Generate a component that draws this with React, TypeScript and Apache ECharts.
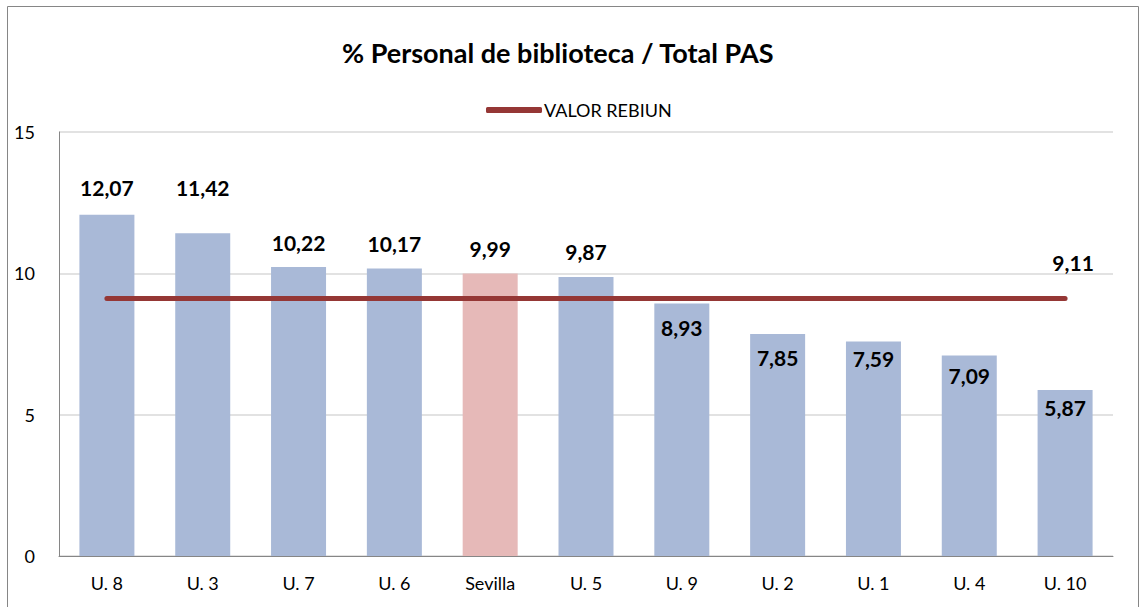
import React, { useEffect, useRef } from "react";
import * as echarts from "echarts";

const categories = ["U. 8", "U. 3", "U. 7", "U. 6", "Sevilla", "U. 5", "U. 9", "U. 2", "U. 1", "U. 4", "U. 10"];
const barValues = [12.07, 11.42, 10.22, 10.17, 9.99, 9.87, 8.93, 7.85, 7.59, 7.09, 5.87];
const rebiunValue = 9.11;
const rebiunValues = categories.map(() => rebiunValue);
const highlight = "Sevilla";

// label placement per bar (style only)
const labelPos = ["top", "top", "top", "top", "top", "top", "insideTop", "insideTop", "insideTop", "insideTop", "insideTop"];
const labelDist = [17, 35, 14, 15, 15, 15, 13, 13, 7, 9, 7];

const fmt = (v: number) => v.toFixed(2).replace(".", ",");
const FONT = "Lato, 'Open Sans', sans-serif";
const LINE_COLOR = "#953735";

export default function App() {
  const ref = useRef<HTMLDivElement>(null);
  useEffect(() => {
    if (!ref.current) return;
    const chart = echarts.init(ref.current, null, { renderer: "svg" });
    chart.setOption({
      animation: false,
      backgroundColor: "#ffffff",
      textStyle: { fontFamily: FONT },
      graphic: [
        {
          type: "rect",
          shape: { x: 7.5, y: 6.5, width: 1131, height: 620 },
          style: { fill: "none", stroke: "#868686", lineWidth: 1 },
          silent: true,
          z: -1,
        },
      ],
      title: {
        text: "% Personal de biblioteca / Total PAS",
        left: 342,
        top: 39,
        padding: 0,
        textStyle: { fontFamily: FONT, fontWeight: "bold", fontSize: 27, color: "#000" },
      },
      legend: {
        data: [{ name: "VALOR REBIUN", itemStyle: { color: LINE_COLOR, opacity: 1 } }],
        left: 481,
        top: 96,
        itemWidth: 56,
        itemHeight: 6,
        icon: "roundRect",
        textStyle: { fontFamily: FONT, fontSize: 18, color: "#000", padding: [0, 0, 0, -3] },
      },
      grid: { left: 59, right: 29, top: 132, bottom: 51 },
      xAxis: {
        type: "category",
        data: categories,
        axisLine: { show: true, lineStyle: { color: "#868686", width: 1 } },
        axisTick: { show: false },
        axisLabel: { color: "#000", fontSize: 18, fontFamily: FONT, margin: 18 },
      },
      yAxis: {
        type: "value",
        min: 0,
        max: 15,
        interval: 5,
        axisLine: { show: true, lineStyle: { color: "#868686", width: 1 } },
        axisTick: { show: false },
        axisLabel: { color: "#000", fontSize: 18, fontFamily: FONT, margin: 24 },
        splitLine: { lineStyle: { color: "#D9D9D9", width: 1.5 } },
      },
      series: [
        {
          type: "bar",
          name: "Valor",
          barWidth: 55,
          data: barValues.map((v, i) => ({
            value: v,
            itemStyle: { color: categories[i] === highlight ? "#E6B9B8" : "#A9B9D7" },
            label: { position: labelPos[i], distance: labelDist[i] },
          })),
          label: {
            show: true,
            formatter: (p: any) => fmt(p.value),
            fontFamily: FONT,
            fontWeight: "bold",
            fontSize: 21,
            color: "#000",
          },
          z: 2,
        },
        {
          type: "line",
          name: "VALOR REBIUN",
          data: rebiunValues.map((v, i) => ({
            value: v,
            label: { show: i === rebiunValues.length - 1 },
          })),
          symbol: "circle",
          symbolSize: 1,
          itemStyle: { color: LINE_COLOR, opacity: 0 },
          lineStyle: { color: LINE_COLOR, width: 5, cap: "round" },
          label: {
            show: false,
            position: "top",
            distance: 25,
            offset: [8, 0],
            formatter: (p: any) => fmt(p.value),
            fontFamily: FONT,
            fontWeight: "bold",
            fontSize: 21,
            color: "#000",
            opacity: 1,
          },
          z: 3,
        },
      ],
    });
    return () => chart.dispose();
  }, []);
  return (
    <div
      ref={ref}
      style={{ position: "fixed", left: 0, top: 0, width: 1142, height: 607 }}
    />
  );
}
